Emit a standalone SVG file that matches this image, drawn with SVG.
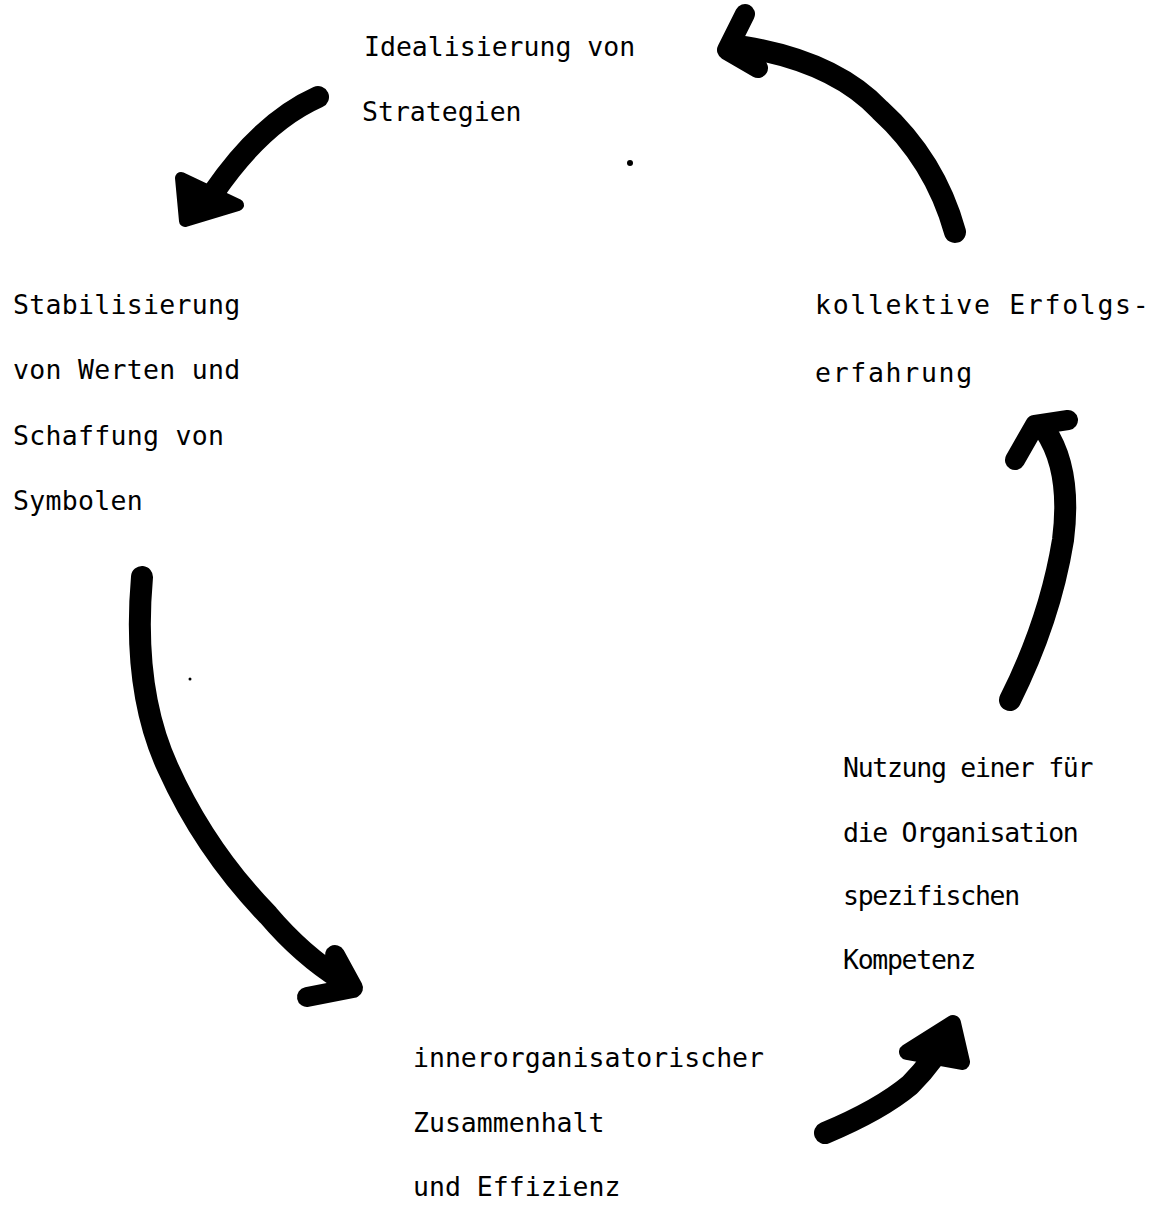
<svg xmlns="http://www.w3.org/2000/svg" width="1169" height="1232" viewBox="0 0 1169 1232">
<style>
.t{font-family:"DejaVu Sans Mono","Liberation Mono",monospace;font-size:26.5px;fill:#000}
.s{fill:none;stroke:#000;stroke-width:22;stroke-linecap:round;stroke-linejoin:round}
.h{fill:none;stroke:#000;stroke-width:20;stroke-linecap:round;stroke-linejoin:round}
</style>
<rect width="1169" height="1232" fill="#fff"/>
<g id="n-idealisierung">
<text class="t" x="364" y="56">Idealisierung von</text>
<text class="t" x="362" y="121">Strategien</text>
</g>
<g id="n-stabilisierung" letter-spacing="0.3">
<text class="t" x="13" y="314">Stabilisierung</text>
<text class="t" x="13" y="379">von Werten und</text>
<text class="t" x="13" y="445">Schaffung von</text>
<text class="t" x="13" y="510">Symbolen</text>
</g>
<g id="n-erfolg" letter-spacing="1.7">
<text class="t" x="815" y="314">kollektive Erfolgs-</text>
<text class="t" x="815" y="382">erfahrung</text>
</g>
<g id="n-kompetenz" letter-spacing="-1.3">
<text class="t" x="843" y="777">Nutzung einer für</text>
<text class="t" x="843" y="842">die Organisation</text>
<text class="t" x="843" y="905">spezifischen</text>
<text class="t" x="843" y="969">Kompetenz</text>
</g>
<g id="n-zusammenhalt">
<text class="t" x="413" y="1067">innerorganisatorischer</text>
<text class="t" x="413" y="1132">Zusammenhalt</text>
<text class="t" x="413" y="1196">und Effizienz</text>
</g>
<g id="connectors">
<g id="a1">
<path class="s" d="M318,97 Q262,122 214,192"/>
<path d="M181,178 L185,221 L238,205 Z" fill="#000" stroke="#000" stroke-width="12" stroke-linejoin="round"/>
</g>
<g id="a2">
<path class="s" d="M955,232 Q935,160 880,110 Q835,62 745,47"/>
<path class="h" d="M745,14 L727,50 L758,68"/>
</g>
<g id="a3">
<path class="s" d="M1010,700 Q1050,620 1063,540 Q1072,470 1045,430"/>
<path class="h" d="M1015,460 L1035,425 L1068,420"/>
</g>
<g id="a4">
<path class="s" d="M142,577 Q132,690 168,768 Q205,850 268,915 Q302,955 342,980"/>
<path class="h" d="M335,955 L353,988 L307,997"/>
</g>
<g id="a5">
<path class="s" d="M825,1133 Q880,1110 910,1085 Q935,1060 950,1030"/>
<path d="M907,1052 L953,1023 L962,1062 Z" fill="#000" stroke="#000" stroke-width="16" stroke-linejoin="round"/>
</g>
</g>
<circle cx="630" cy="163" r="3" fill="#000"/>
<circle cx="190" cy="679" r="1.5" fill="#000"/>
</svg>
